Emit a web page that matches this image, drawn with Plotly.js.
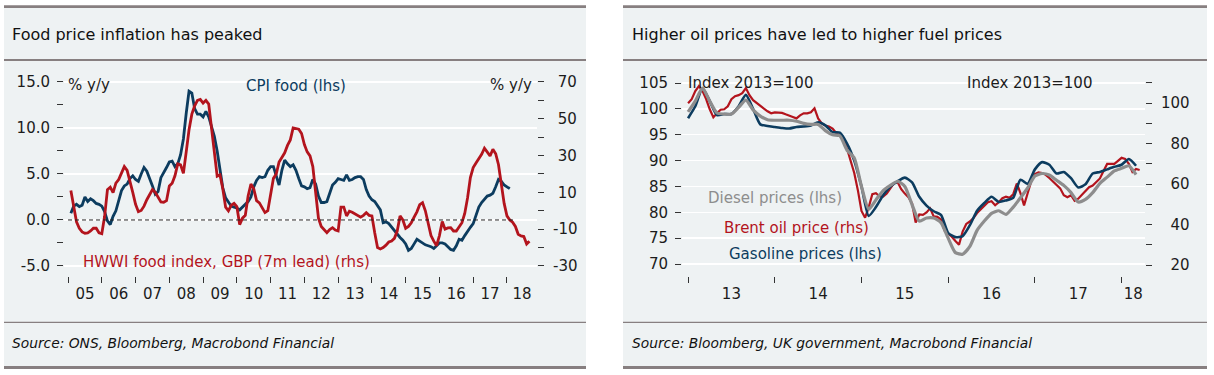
<!DOCTYPE html>
<html><head><meta charset="utf-8">
<script src="https://cdn.plot.ly/plotly-3.0.1.min.js"></script>
<style>html,body{margin:0;padding:0;background:#fff}#chart{width:1214px;height:375px}</style>
</head><body><div id="chart"></div>
<script>
// ---------------- DATA ----------------
// Left chart: monthly, starting Feb 2005
const cpiStart = [2005, 2];
const cpiFood = [0.72,1.5,1.7,1.45,1.6,2.5,2.0,2.3,2.1,1.8,1.7,1.5,
0.9,-0.1,-0.5,0.4,1.0,2.2,3.2,3.7,3.9,4.5,4.8,4.4,
4.2,5.0,5.7,5.3,4.6,3.7,2.8,3.1,4.6,5.1,5.7,6.3,
6.4,5.8,6.1,7.1,8.8,11.6,14.0,13.8,12.1,11.5,11.5,11.2,
11.8,11.2,10.0,9.1,7.5,5.4,3.5,2.4,1.9,1.5,1.4,1.3,
1.1,1.4,1.7,2.0,2.5,3.6,4.3,4.7,4.6,4.7,5.4,5.8,
5.8,4.9,3.8,5.4,6.5,6.1,5.8,6.0,5.4,4.5,3.7,3.6,
3.4,3.5,4.4,3.9,2.6,1.9,1.9,2.0,2.8,3.8,4.1,4.5,
4.4,4.3,4.9,4.3,4.4,4.6,4.7,4.7,4.4,3.3,2.6,2.2,
2.0,1.6,1.1,-0.3,-0.2,-0.4,-0.8,-1.2,-1.5,-1.9,-2.2,-2.6,
-3.3,-3.1,-2.6,-2.1,-2.3,-2.5,-2.7,-2.8,-2.9,-3.1,-2.8,-2.5,
-2.5,-2.6,-2.9,-3.2,-3.3,-2.8,-2.1,-2.2,-1.7,-1.2,-0.8,-0.4,
0.5,1.4,1.9,2.3,2.6,2.7,2.9,3.6,4.4,4.2,3.8,3.6,
3.4];
const hwwiStart = [2005, 2];
const hwwiFood = [11.0,3.5,-6.0,-9.5,-11.5,-12.2,-12.0,-11.0,-9.5,-9.5,-12.0,-12.5,
-3.0,11.5,12.8,9.8,15.0,17.0,21.0,24.0,22.0,16.5,10.0,3.5,
-0.5,0.2,2.5,6.0,9.0,11.5,10.0,7.0,4.8,4.6,5.5,13.5,
15.0,19.0,25.5,25.0,20.4,32.0,44.0,52.5,57.0,60.0,60.5,58.5,
60.0,58.0,45.0,30.0,18.8,19.5,12.0,2.0,0.0,3.0,4.0,2.2,
-7.5,-4.0,-2.5,8.0,14.5,12.0,5.5,4.3,2.0,-1.0,0.0,9.0,
17.6,20.0,26.5,29.0,31.5,35.5,38.5,45.0,44.5,44.3,42.0,36.0,
32.0,29.8,24.0,8.0,-4.0,-8.5,-10.0,-11.9,-10.2,-9.2,-10.5,-11.0,
2.0,2.0,-2.8,-0.2,-0.8,-1.8,-2.5,-3.5,-2.5,-1.0,-2.5,-2.8,
-12.0,-20.0,-20.8,-20.0,-18.7,-17.0,-16.4,-15.0,-11.0,-2.8,-5.0,-9.5,
-8.5,-6.5,-3.5,-0.6,3.3,4.4,0.0,-7.0,-13.5,-16.5,-19.0,-13.5,
-5.8,-10.0,-9.3,-9.2,-11.0,-11.0,-8.5,-6.5,-1.5,7.0,18.0,23.5,
26.0,28.5,30.7,34.0,32.0,29.8,33.4,31.0,25.0,15.5,4.0,-2.8,
-5.0,-6.2,-8.5,-12.8,-13.7,-14.0,-18.0,-16.5];
const leftYears = [2005,2006,2007,2008,2009,2010,2011,2012,2013,2014,2015,2016,2017,2018];
const leftYearLabels = ['05','06','07','08','09','10','11','12','13','14','15','16','17','18'];
const lhsTicksL = [-5,0,5,10,15];
const lhsMinorL = [-2.5,2.5,7.5,12.5];
const rhsTicksL = [-30,-10,10,30,50,70];
const rhsMinorL = [-20,0,20,40,60];

// Right chart: fuel prices monthly from Jan 2013, Brent twice a month
const fuelStart = [2013, 1];
const gasoline = [98.2,100.5,104.0,101.5,98.8,99.0,99.0,100.5,102.7,100.0,
97.0,96.7,96.5,96.3,96.2,96.5,96.6,96.8,97.4,96.8,
95.5,95.4,93.3,90.0,85.0,79.3,81.0,83.3,85.0,86.0,
86.7,85.8,83.0,81.3,80.2,79.5,76.0,75.2,75.4,77.5,
80.3,81.8,83.0,82.0,82.3,82.8,86.3,85.5,88.3,89.7,
89.2,87.5,87.8,86.6,84.8,85.4,87.5,87.8,88.3,88.8,
89.2,90.3,89.0];
const diesel = [99.4,101.5,104.0,101.5,99.2,99.0,99.0,100.3,101.7,99.8,
98.6,97.9,97.8,97.8,97.8,97.6,97.2,97.0,97.0,95.8,
95.0,94.8,92.0,90.5,85.0,80.6,82.4,84.2,85.2,86.0,
85.0,81.5,78.3,78.9,78.9,78.0,75.0,72.2,71.9,73.4,
76.5,78.3,79.8,80.3,79.6,81.0,82.8,84.7,87.0,87.5,
87.2,86.2,85.2,83.8,82.0,82.5,83.8,85.6,86.8,88.0,
88.5,89.0,87.3];
const brentStart = [2013, 1];
const brent = [100,102,106,108.5,106,102,97,93,95,96.8,
97,98.5,102,103.5,104,105,107.5,104,101.5,100,
98.5,97.3,96,95,95.5,95.5,95.2,94.5,94,93.2,
92.5,94,95,95,95.5,97.5,92.5,90,89,88.5,
87.5,85.3,84,82.5,77.5,71.5,65.5,57,46.7,43.4,
48.5,55,55.5,54,53.8,55.3,58,60.5,61,57.5,
55.3,53.5,50.5,41,45,44.8,46,48,44,43.8,
42.5,37,35.5,34,31.9,30,36.5,40.3,41.5,43.2,
45.7,47.5,49.3,51,51.5,49.5,51,53,53.8,53.2,
55,60.3,55.5,49.5,55.5,61.5,65,65.8,65.5,64.6,
63,61.4,59.7,57.9,54.5,53.5,54.5,51.8,52.8,54.8,
57,58.5,59.3,61,62.8,66.5,70,70,70,71.5,
73,72.5,70,66,67.5,67];
const rightYears = [2013,2014,2015,2016,2017,2018];
const rightYearLabels = ['13','14','15','16','17','18'];
const lhsTicksR = [70,75,80,85,90,95,100,105];
const rhsTicksR = [20,40,60,80,100];
const rhsMinorR = [30,50,70,90,110];

// ---------------- HELPERS ----------------
const W = 1214, H = 375;
const px = x => x / W;
const py = y => 1 - y / H;
const timeAxis = (start, n, perYear) => Array.from({length: n}, (_, i) => start[0] + (start[1] - 1) / 12 + i / perYear);
const midLabels = (years, r) => years.map(y => (Math.max(y, r[0]) + Math.min(y + 1, r[1])) / 2);
const NB = '\u00a0';

const BLUE = '#0c3c5f', RED = '#b3141d', GREY = '#8d8d8d', TXT = '#1c1c1c', RULE = '#877f80', BG = '#eef2f3';
const FAM = 'DejaVu Sans, sans-serif';
const tickFont = {family: FAM, size: 15, color: TXT};

const xRangeL = [2004.88, 2018.89];
const xRangeR = [2012.93, 2018.27];
const dom = [py(276), py(78)];

const traces = [
  {x: timeAxis(cpiStart, cpiFood.length, 12), y: cpiFood, xaxis: 'x', yaxis: 'y', type: 'scatter', mode: 'lines', line: {color: BLUE, width: 2.8}, name: 'CPI food'},
  {x: timeAxis(hwwiStart, hwwiFood.length, 12), y: hwwiFood, xaxis: 'x', yaxis: 'y2', type: 'scatter', mode: 'lines', line: {color: RED, width: 2.8}, name: 'HWWI'},
  {x: timeAxis(brentStart, brent.length, 24), y: brent, xaxis: 'x2', yaxis: 'y3', type: 'scatter', mode: 'lines', line: {color: RED, width: 2.2}, name: 'Brent'},
  {x: timeAxis(fuelStart, gasoline.length, 12), y: gasoline, xaxis: 'x2', yaxis: 'y4', type: 'scatter', mode: 'lines', line: {color: BLUE, width: 2.6, shape: 'spline', smoothing: 0.6}, name: 'Gasoline'},
  {x: timeAxis(fuelStart, diesel.length, 12), y: diesel, xaxis: 'x2', yaxis: 'y4', type: 'scatter', mode: 'lines', line: {color: GREY, width: 3.2, shape: 'spline', smoothing: 0.6}, name: 'Diesel'},
  {x: [], y: [], xaxis: 'x3', yaxis: 'y', type: 'scatter', hoverinfo: 'skip', showlegend: false},
  {x: [], y: [], xaxis: 'x4', yaxis: 'y3', type: 'scatter', hoverinfo: 'skip', showlegend: false}
];

const tickAxis = (domain, anchor, range, vals) => ({
  domain, anchor, range, tickmode: 'array', tickvals: vals, showticklabels: false,
  ticks: 'outside', ticklen: 6, tickwidth: 1, tickcolor: '#333',
  showgrid: false, zeroline: false, showline: false, fixedrange: true
});
const labelAxis = (over, anchor, range, years, labels) => ({
  overlaying: over, anchor, range, tickmode: 'array', tickvals: midLabels(years, range), ticktext: labels,
  ticks: '', showgrid: false, zeroline: false, showline: false, tickfont: tickFont, ticklabelstandoff: 7, fixedrange: true
});
const minorTicks = vals => ({tickmode: 'array', tickvals: vals, ticks: 'outside', ticklen: 6, tickwidth: 1, tickcolor: '#333', showgrid: false});

const rect = (x0, x1, y0, y1, color) => ({type: 'rect', xref: 'paper', yref: 'paper', x0: px(x0), x1: px(x1), y0: py(y1), y1: py(y0), fillcolor: color, line: {width: 0}, layer: 'below'});

const shapes = [
  rect(4, 586, 8, 366, BG), rect(623, 1207, 8, 366, BG),
  rect(4, 586, 5.3, 8, RULE), rect(623, 1207, 5.3, 8, RULE),
  rect(4, 586, 59, 61, RULE), rect(623, 1207, 59, 61, RULE),
  rect(4, 586, 321.7, 323, RULE), rect(623, 1207, 321.7, 323, RULE),
  rect(4, 586, 366, 369, RULE), rect(623, 1207, 366, 369, RULE),
  {type: 'line', xref: 'x domain', yref: 'y', x0: 0.0085, x1: 0.953, y0: 0, y1: 0, line: {color: '#222', width: 1, dash: '4px,3px'}}
];

const ann = (x, y, text, color, size, anchor) => ({
  xref: 'paper', yref: 'paper', x: px(x), y: py(y), text, showarrow: false,
  xanchor: anchor || 'left', yanchor: 'middle', font: {family: FAM, size, color}
});

const annotations = [
  ann(10, 34, 'Food price inflation has peaked', '#111', 16),
  ann(630, 34, 'Higher oil prices have led to higher fuel prices', '#111', 16),
  ann(10, 343, '<i>Source: ONS, Bloomberg, Macrobond Financial</i>', '#111', 13.8),
  ann(630, 343, '<i>Source: Bloomberg, UK government, Macrobond Financial</i>', '#111', 13.8),
  ann(66, 85, '% y/y', TXT, 15),
  ann(534, 85, '% y/y', TXT, 15, 'right'),
  ann(244, 86, 'CPI food (lhs)', BLUE, 15),
  ann(81, 262, 'HWWI food index, GBP (7m lead) (rhs)', RED, 15),
  ann(686, 83, 'Index 2013=100', TXT, 15),
  ann(965, 83, 'Index 2013=100', TXT, 15),
  ann(706, 198, 'Diesel prices (lhs)', GREY, 15),
  ann(722, 228, 'Brent oil price (rhs)', RED, 15),
  ann(727, 254, 'Gasoline prices (lhs)', BLUE, 15)
];

const layout = {
  width: W, height: H, margin: {l: 0, r: 0, t: 0, b: 0},
  paper_bgcolor: '#ffffff', plot_bgcolor: 'rgba(0,0,0,0)', showlegend: false,
  font: {family: FAM, color: TXT},
  xaxis: tickAxis([px(64), px(537)], 'y', xRangeL, leftYears),
  xaxis3: labelAxis('x', 'y', xRangeL, leftYears, leftYearLabels),
  yaxis: {
    domain: dom, anchor: 'x', range: [-6.09, 15.43], tickmode: 'array', tickvals: lhsTicksL,
    ticktext: lhsTicksL.map(v => v.toFixed(1)), tickfont: tickFont,
    ticks: 'outside', ticklen: 6, tickwidth: 1, tickcolor: '#333', ticklabelstandoff: 4,
    showgrid: true, gridcolor: '#ffffff', gridwidth: 1.5, zeroline: false, showline: false,
    minor: minorTicks(lhsMinorL), fixedrange: true
  },
  yaxis2: {
    overlaying: 'y', side: 'right', anchor: 'x', range: [-35.45, 72.15], tickmode: 'array', tickvals: rhsTicksL,
    ticktext: rhsTicksL.map(v => (v >= 0 ? NB : '') + String(v)), tickfont: tickFont,
    ticks: 'outside', ticklen: 6, tickwidth: 1, tickcolor: '#333', ticklabelstandoff: 6,
    showgrid: false, zeroline: false, showline: false, minor: minorTicks(rhsMinorL), fixedrange: true
  },
  xaxis2: tickAxis([px(682), px(1145)], 'y3', xRangeR, rightYears),
  xaxis4: labelAxis('x2', 'y3', xRangeR, rightYears, rightYearLabels),
  yaxis3: {
    domain: dom, anchor: 'x2', side: 'right', range: [14.56, 112.47], tickmode: 'array', tickvals: rhsTicksR,
    ticktext: rhsTicksR.map(v => (v < 100 ? NB + NB : '') + String(v)), tickfont: tickFont,
    ticks: 'outside', ticklen: 6, tickwidth: 1, tickcolor: '#333', ticklabelstandoff: 6,
    showgrid: false, zeroline: false, showline: false, minor: minorTicks(rhsMinorR), fixedrange: true
  },
  yaxis4: {
    overlaying: 'y3', side: 'left', anchor: 'x2', range: [67.68, 105.97], tickmode: 'array', tickvals: lhsTicksR,
    tickfont: tickFont, ticks: 'outside', ticklen: 6, tickwidth: 1, tickcolor: '#333', ticklabelstandoff: 4,
    showgrid: true, gridcolor: '#ffffff', gridwidth: 1.5, zeroline: false, showline: false, fixedrange: true
  },
  shapes, annotations
};

Plotly.newPlot('chart', traces, layout, {displayModeBar: false, staticPlot: true});
</script></body></html>
